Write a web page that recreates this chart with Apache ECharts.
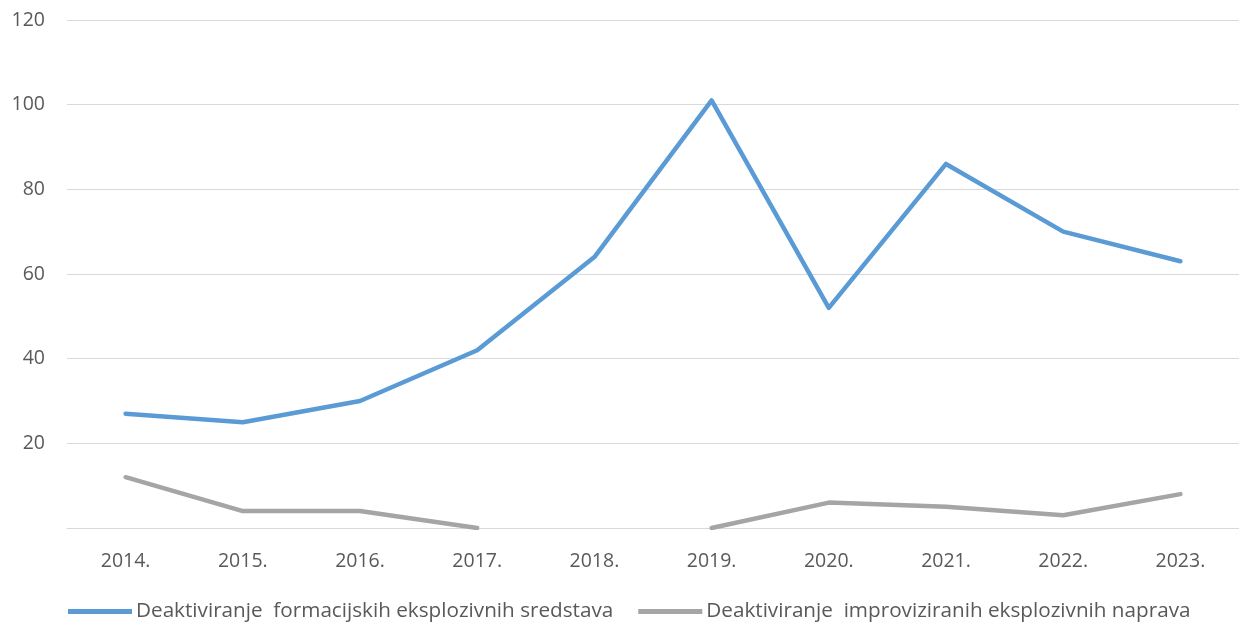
<!DOCTYPE html>
<html><head><meta charset="utf-8">
<script src="https://cdn.jsdelivr.net/npm/echarts@6/dist/echarts.min.js"></script>
<style>html,body{margin:0;padding:0;background:#fff}#c{width:1239px;height:628px}</style>
</head><body><div id="c"></div>
<script>
var categories = ['2014.','2015.','2016.','2017.','2018.','2019.','2020.','2021.','2022.','2023.'];
var formacijskih = [27,25,30,42,64,101,52,86,70,63];
var improviziranih = [12,4,4,0,null,0,6,5,3,8];
var seriesNames = ['Deaktiviranje  formacijskih eksplozivnih sredstava','Deaktiviranje  improviziranih eksplozivnih naprava'];
var yTicks = {min:0,max:120,interval:20};

var font = 'Open Sans';
var chart = echarts.init(document.getElementById('c'));
chart.setOption({
  animation:false,
  grid:{left:67,width:1172,top:20,height:508},
  legend:{
    left:68, top:601, padding:0, itemGap:25, itemWidth:64, itemHeight:5, icon:'rect',
    textStyle:{fontFamily:font,fontSize:20.7,color:'#595959',padding:[0,0,0,-1]},
    data:seriesNames
  },
  xAxis:{
    type:'category', data:categories, boundaryGap:true,
    axisLine:{show:true,lineStyle:{color:'#d9d9d9',width:1}},
    axisTick:{show:false},
    axisLabel:{fontFamily:font,fontSize:19.5,color:'#595959',margin:23}
  },
  yAxis:{
    type:'value', min:yTicks.min, max:yTicks.max, interval:yTicks.interval,
    axisLine:{show:false}, axisTick:{show:false},
    splitLine:{lineStyle:{color:'#d9d9d9',width:1}},
    axisLabel:{fontFamily:font,fontSize:19.5,color:'#595959',margin:22,
      formatter:function(v){return v===0?'':String(v);}}
  },
  series:[
    {name:seriesNames[0],type:'line',data:formacijskih,symbol:'none',
     lineStyle:{color:'#5b9bd5',width:4.5,cap:'round',join:'round'},itemStyle:{color:'#5b9bd5'}},
    {name:seriesNames[1],type:'line',data:improviziranih,symbol:'none',connectNulls:false,
     lineStyle:{color:'#a5a5a5',width:4.5,cap:'round',join:'round'},itemStyle:{color:'#a5a5a5'}}
  ]
});
</script></body></html>
